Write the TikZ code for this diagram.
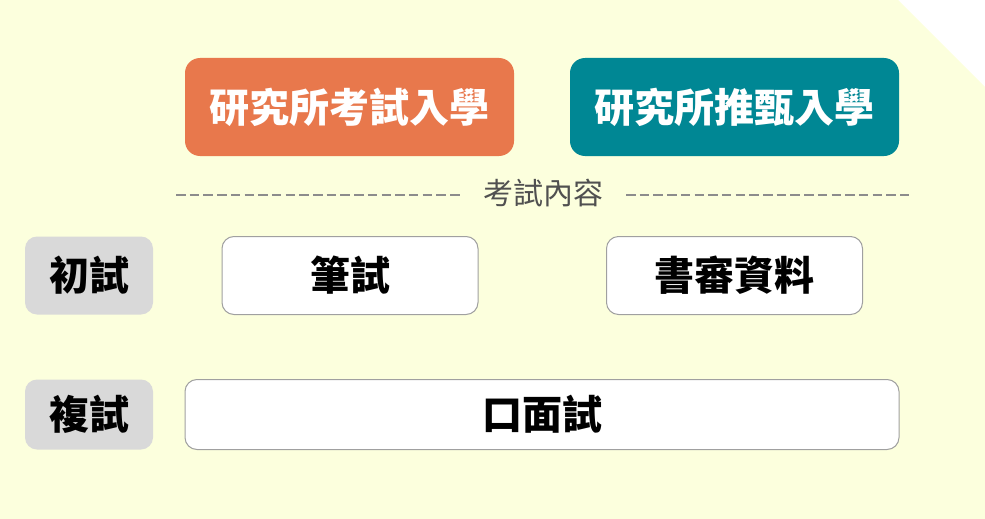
\documentclass[tikz,border=0pt]{standalone}
\usepackage{fontspec}
\setmainfont{Noto Sans CJK TC}
\definecolor{bgyel}{RGB}{252,255,221}
\definecolor{orng}{RGB}{232,120,76}
\definecolor{teal2}{RGB}{0,135,148}
\definecolor{lgray}{RGB}{217,217,217}
\definecolor{bord}{RGB}{160,160,160}
\definecolor{dashc}{RGB}{140,140,140}
\definecolor{txtg}{RGB}{80,80,80}
\tikzset{
  topbox/.style={rounded corners=15pt, inner sep=0pt, text=white, font=\fontsize{40}{44}\selectfont\bfseries},
  labbox/.style={rounded corners=12pt, fill=lgray, inner sep=0pt, font=\fontsize{40}{44}\selectfont\bfseries},
  wbox/.style={rounded corners=12pt, fill=white, draw=bord, line width=1pt, inner sep=0pt, font=\fontsize{40}{44}\selectfont\bfseries},
  sepline/.style={draw=dashc, line width=1.6pt, dash pattern=on 9.5pt off 4.2pt}
}
\begin{document}
\begin{tikzpicture}[x=1pt,y=-1pt]
\useasboundingbox (0,0) rectangle (985,519);
\fill[bgyel] (0,0) -- (898,0) -- (985,87) -- (985,519) -- (0,519) -- cycle;
\node[topbox, fill=orng, minimum width=329pt, minimum height=98pt] (exam) at (349.5,107) {研究所考試入學};
\node[topbox, fill=teal2, minimum width=329pt, minimum height=98pt] (recom) at (734.5,107) {研究所推甄入學};
\node[text=txtg, font=\fontsize{30}{34}\selectfont, inner sep=0pt] (cont) at (543,193) {考試內容};
\coordinate (l1) at (176,195);
\coordinate (l2) at (462,195);
\coordinate (r1) at (626,195);
\coordinate (r2) at (909,195);
\draw[sepline] (l1) -- (l2);
\draw[sepline] (r1) -- (r2);
\node[labbox, minimum width=128pt, minimum height=78pt] (first) at (89,275.5) {初試};
\node[wbox, minimum width=256pt, minimum height=78pt] (written) at (350,275.5) {筆試};
\node[wbox, minimum width=256pt, minimum height=78pt] (review) at (734.5,275.5) {書審資料};
\node[labbox, minimum width=128pt, minimum height=70pt] (second) at (89,414.5) {複試};
\node[wbox, minimum width=714pt, minimum height=70pt] (oral) at (542,414.5) {口面試};
\end{tikzpicture}
\end{document}
